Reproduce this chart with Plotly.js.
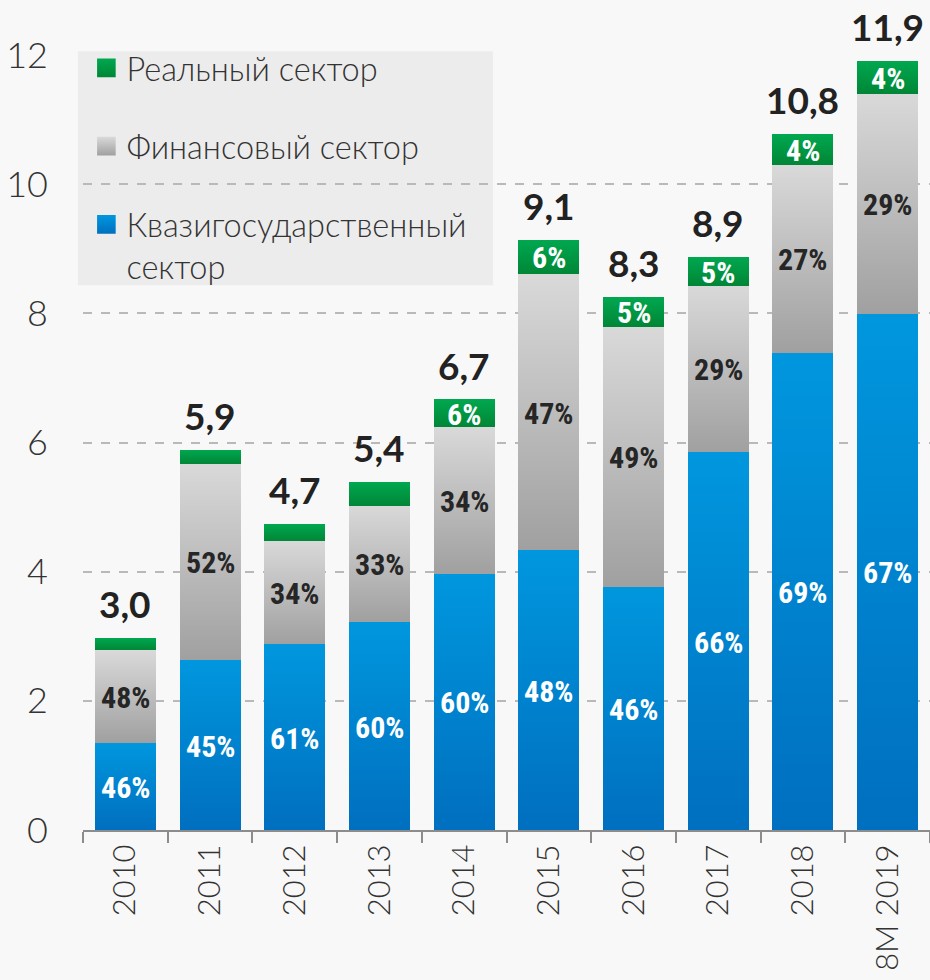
<!DOCTYPE html>
<html>
<head>
<meta charset="utf-8">
<script src="https://cdn.plot.ly/plotly-3.0.1.min.js"></script>
<style>
  html, body { margin: 0; padding: 0; background: #f8f8f8; overflow: hidden; }
  #chart { width: 930px; height: 980px; }
</style>
</head>
<body>
<div id="chart"></div>
<script>
// ---- data ----
const years = ['2010', '2011', '2012', '2013', '2014', '2015', '2016', '2017', '2018', '8M 2019'];
const quasi = [1.35, 2.63, 2.88, 3.22, 3.97, 4.33, 3.77, 5.85, 7.39, 7.99];
const fin   = [1.43, 3.04, 1.59, 1.80, 2.27, 4.28, 4.02, 2.58, 2.91, 3.41];
const real  = [0.20, 0.22, 0.27, 0.37, 0.43, 0.53, 0.47, 0.45, 0.48, 0.51];
const totalLabels = ['3,0', '5,9', '4,7', '5,4', '6,7', '9,1', '8,3', '8,9', '10,8', '11,9'];
const quasiPct = ['46%', '45%', '61%', '60%', '60%', '48%', '46%', '66%', '69%', '67%'];
const finPct   = ['48%', '52%', '34%', '33%', '34%', '47%', '49%', '29%', '27%', '29%'];
const realPct  = ['', '', '', '', '6%', '6%', '5%', '5%', '4%', '4%'];
const seriesNames = ['Квазигосударственный<br>сектор', 'Финансовый сектор', 'Реальный сектор'];

const BLUE = '#0084cf', GREY = '#bebebe', GREEN = '#009846';
const gradients = {
  'rgb(0, 132, 207)': ['gBlue', '#0097de', '#006fbf'],
  'rgb(190, 190, 190)': ['gGrey', '#d9d9d9', '#a0a0a0'],
  'rgb(0, 152, 70)': ['gGreen', '#00a850', '#008636']
};

const totals = years.map((_, i) => quasi[i] + fin[i] + real[i]);
const midQ = years.map((_, i) => quasi[i] / 2);
const midF = years.map((_, i) => quasi[i] + fin[i] / 2);
const midR = years.map((_, i) => quasi[i] + fin[i] + real[i] / 2);

const pctFamily = '"Liberation Sans Narrow", "Arial Narrow", "Roboto Condensed", Roboto, sans-serif';

function barTrace(vals, name, color, group, rank) {
  return { type: 'bar', x: years, y: vals, name: name, legendgroup: group, legendrank: rank,
           marker: { color: color, line: { width: 0 } }, hoverinfo: 'skip' };
}

const data = [
  barTrace(quasi, seriesNames[0], BLUE, 'q', 3),
  barTrace(fin, seriesNames[1], GREY, 'f', 2),
  barTrace(real, seriesNames[2], GREEN, 'r', 1)
];

// annotations on a category axis are placed by category index
const totalAnnots = years.map((y, i) => ({
  x: i, y: totals[i], text: totalLabels[i], showarrow: false,
  yanchor: 'middle', yshift: 34, xref: 'x', yref: 'y',
  font: { family: 'Lato, "Open Sans", sans-serif', size: 37, weight: 700, color: '#222222' }
}));
function pctAnnots(mids, labels, color) {
  return labels.map((t, i) => ({
    x: i, y: mids[i], text: t, showarrow: false, xref: 'x', yref: 'y',
    xanchor: 'center', yanchor: 'middle', yshift: -1,
    font: { family: pctFamily, size: 30, weight: 700, color: color }
  })).filter(a => a.text !== '');
}
const annotations = totalAnnots
  .concat(pctAnnots(midQ, quasiPct, '#ffffff'))
  .concat(pctAnnots(midF, finPct, '#262626'))
  .concat(pctAnnots(midR, realPct, '#ffffff'));

const layout = {
  width: 930, height: 980,
  margin: { l: 83, r: 0, t: 55, b: 150, pad: 0 },
  paper_bgcolor: '#f8f8f8', plot_bgcolor: 'rgba(0,0,0,0)',
  barmode: 'stack', bargap: 0.28,
  showlegend: true,
  legend: {
    x: 0.004, xanchor: 'left', y: 1.019, yanchor: 'top',
    bgcolor: 'rgba(0,0,0,0)', borderwidth: 0,
    traceorder: 'grouped', tracegroupgap: 33, valign: 'top',
    font: { family: 'Lato, "Open Sans", sans-serif', size: 32.5, weight: 300, color: '#333333' },
    itemclick: false, itemdoubleclick: false
  },
  xaxis: {
    type: 'category', range: [-0.5, 9.5], tickangle: -90, showgrid: false,
    showline: true, linecolor: '#8c8c8c', linewidth: 2,
    ticks: 'outside', tickson: 'boundaries', ticklen: 11, tickwidth: 2, tickcolor: '#8c8c8c',
    tickfont: { family: 'Lato, "Open Sans", sans-serif', size: 31, weight: 300, color: '#333333' },
    fixedrange: true
  },
  yaxis: {
    range: [0, 12], tickvals: [0, 2, 4, 6, 8, 10, 12], ticktext: ['0', '2', '4', '6', '8', '10', '12'],
    showgrid: true, gridcolor: '#b9b9b9', gridwidth: 2, griddash: 'dash',
    zeroline: false, showline: false, ticks: '', ticklabelstandoff: 34,
    tickfont: { family: 'Lato, "Open Sans", sans-serif', size: 36, weight: 300, color: '#333333' },
    fixedrange: true
  },
  shapes: [{
    type: 'rect', xref: 'paper', yref: 'paper', layer: 'below',
    x0: -0.006, x1: 0.484, y0: 0.703, y1: 1.005,
    fillcolor: '#ececec', line: { width: 0 }
  }],
  annotations: annotations
};

Plotly.newPlot('chart', data, layout, { displayModeBar: false, staticPlot: true }).then(gd => {
  const svg = gd.querySelector('svg.main-svg');
  let defs = svg.querySelector('defs');
  const NS = 'http://www.w3.org/2000/svg';
  Object.keys(gradients).forEach(k => {
    const [id, c1, c2] = gradients[k];
    const lg = document.createElementNS(NS, 'linearGradient');
    lg.setAttribute('id', id);
    lg.setAttribute('x1', '0'); lg.setAttribute('y1', '0');
    lg.setAttribute('x2', '0'); lg.setAttribute('y2', '1');
    [[0, c1], [1, c2]].forEach(([o, c]) => {
      const s = document.createElementNS(NS, 'stop');
      s.setAttribute('offset', o); s.setAttribute('stop-color', c);
      lg.appendChild(s);
    });
    defs.appendChild(lg);
  });
  gd.querySelectorAll('path').forEach(p => {
    const f = p.style.fill;
    if (gradients[f]) p.style.fill = 'url(#' + gradients[f][0] + ')';
  });
  gd.querySelectorAll('.legendpoints path').forEach(p => {
    const t = p.getAttribute('transform') || '';
    p.setAttribute('transform', t + ' scale(1.55)');
  });
});
</script>
</body>
</html>
